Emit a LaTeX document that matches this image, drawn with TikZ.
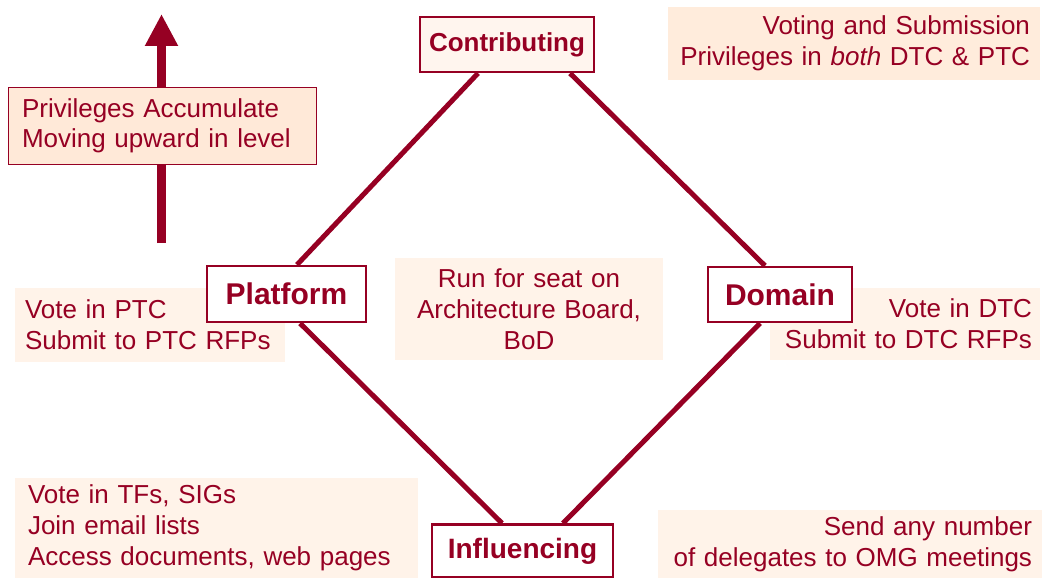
\documentclass[tikz,border=0pt]{standalone}
\usepackage{fontspec}
\setmainfont{Liberation Sans}
\usetikzlibrary{arrows.meta}
\definecolor{omgred}{RGB}{150,0,35}
\definecolor{notefill}{RGB}{255,243,233}
\definecolor{topfill}{RGB}{255,236,220}
\definecolor{boxfill}{RGB}{255,233,216}
\definecolor{levelfill}{RGB}{255,245,238}

\begin{document}
\begin{tikzpicture}[x=1pt,y=-1pt,
    level/.style = {draw=omgred, line width=2.5pt, fill=white, text=omgred, inner sep=0pt},
    note/.style = {fill=notefill, text=omgred, inner ysep=0pt, font=\fontsize{26}{31}\selectfont},
    link/.style = {draw=omgred, line width=5pt},
    arrow/.style = {draw=omgred, line width=9pt, -{Triangle[width=31pt,length=32pt]}}]
    \useasboundingbox (0,0) rectangle (1045,578);

    % Privileges of each level
    \node [note, fill=topfill, align=right, inner xsep=10pt, text width=352pt, minimum height=73pt] (bothnote) at (854,43.5) {Voting and Submission\\Privileges in \textit{both} DTC \& PTC};
    \node [note, align=left, inner xsep=10pt, text width=250pt, minimum height=74pt] (ptcnote) at (150,325) {Vote in PTC\\Submit to PTC RFPs};
    \node [note, align=right, inner xsep=8pt, text width=254pt, minimum height=72pt] (dtcnote) at (905,324) {Vote in DTC\\Submit to DTC RFPs};
    \node [note, align=center, inner xsep=0pt, text width=268pt, minimum height=102pt] (bodnote) at (529,309) {Run for seat on\\Architecture Board,\\BoD};
    \node [note, align=left, inner xsep=13pt, text width=377pt, minimum height=100pt] (tfnote) at (216.5,528) {Vote in TFs, SIGs\\Join email lists\\Access documents, web pages};
    \node [note, align=right, inner xsep=10pt, text width=364pt, minimum height=68pt] (omgnote) at (850,544) {Send any number\\of delegates to OMG meetings};

    % Levels
    \node [level, fill=levelfill, minimum width=174pt, minimum height=55pt, font=\bfseries\fontsize{26}{30}\selectfont] (contrib) at (507,44.5) {Contributing};
    \node [level, minimum width=159pt, minimum height=56pt, font=\bfseries\fontsize{30}{34}\selectfont] (platform) at (286.5,294) {Platform};
    \node [level, minimum width=144pt, minimum height=55pt, font=\bfseries\fontsize{30}{34}\selectfont] (domain) at (780,294.5) {Domain};
    \node [level, minimum width=181pt, minimum height=53pt, font=\bfseries\fontsize{28}{32}\selectfont] (influence) at (522.5,551) {Influencing};

    \draw[link] ([xshift=-29pt]contrib.south) -- ([xshift=10.5pt]platform.north);
    \draw[link] ([xshift=63pt]contrib.south) -- ([xshift=-15pt]domain.north);
    \draw[link] ([xshift=13.5pt]platform.south) -- ([xshift=-20.5pt]influence.north);
    \draw[link] ([xshift=-20pt]domain.south) -- ([xshift=40.5pt]influence.north);

    % Upward arrow
    \coordinate (tail) at (161.5,243);
    \coordinate (tip) at (161.5,14);
    \draw[arrow] (tail) -- (tip);
    \node [note, draw=omgred, line width=1pt, fill=boxfill, align=left, inner xsep=14pt, text width=280pt, minimum height=76pt, font=\fontsize{26}{30}\selectfont] (privnote) at (162,126) {Privileges Accumulate\\Moving upward in level};
\end{tikzpicture}
\end{document}
